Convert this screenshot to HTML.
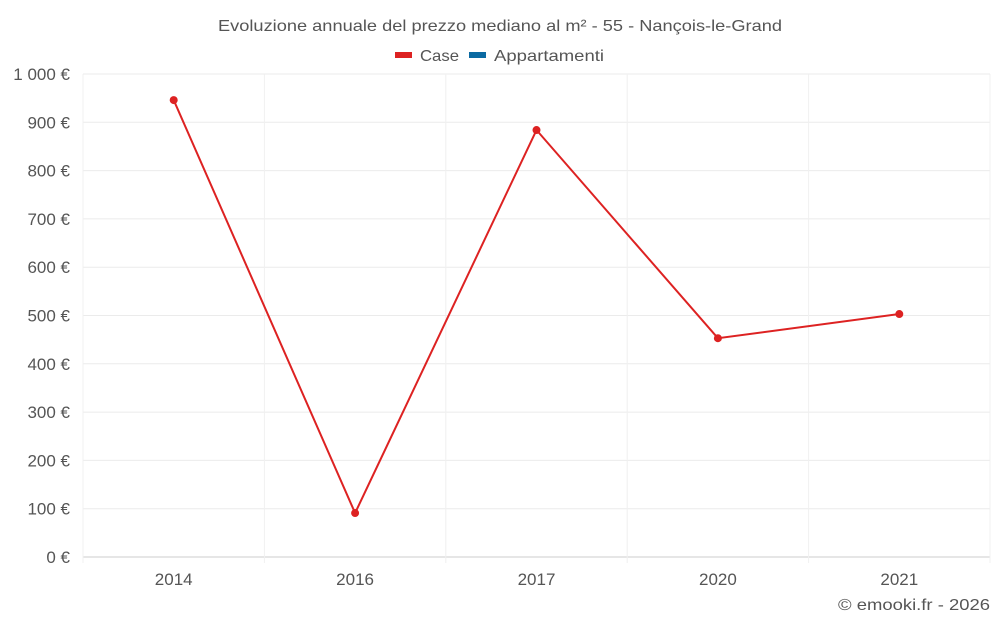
<!DOCTYPE html>
<html><head><meta charset="utf-8"><style>
body{margin:0;background:#fff;font-family:"Liberation Sans",sans-serif;}
svg text{font-family:"Liberation Sans",sans-serif;}
</style></head><body>
<svg id="chart" width="1000" height="625">
<text x="218" y="31" textLength="564" lengthAdjust="spacingAndGlyphs" font-size="16" fill="#555">Evoluzione annuale del prezzo mediano al m² - 55 - Nançois-le-Grand</text>
<g>
<g><rect x="395" y="52" width="17" height="6" fill="#dd2222"/><text x="420" y="61" textLength="39" lengthAdjust="spacingAndGlyphs" font-size="16" fill="#555">Case</text></g>
<g><rect x="469" y="52" width="17" height="6" fill="#0b6aa2"/><text x="494" y="61" textLength="110" lengthAdjust="spacingAndGlyphs" font-size="16" fill="#555">Appartamenti</text></g>
</g>
<g id="grid"></g><g id="axes"></g><g id="series"></g>
<text x="838" y="610" textLength="152" lengthAdjust="spacingAndGlyphs" font-size="16" fill="#555">© emooki.fr - 2026</text>
</svg>
<script>
const categories=["2014","2016","2017","2020","2021"];
const caseValues=[946,91,884,453,503];
const yTicks=[0,100,200,300,400,500,600,700,800,900,1000];
const yTickLabels=["0 €","100 €","200 €","300 €","400 €","500 €","600 €","700 €","800 €","900 €","1 000 €"];
const NS="http://www.w3.org/2000/svg";
const L=83,R=990,T=74,B=557;
const bw=(R-L)/categories.length;
const xS=i=>L+bw*(i+0.5);
const yS=v=>B-(v/1000)*(B-T);
function mk(tag,a,p){const e=document.createElementNS(NS,tag);for(const k in a)e.setAttribute(k,a[k]);p.appendChild(e);return e;}
const g=document.getElementById('grid'),ax=document.getElementById('axes'),s=document.getElementById('series');
yTicks.forEach((v,i)=>{
 const l=mk('line',{x1:L,x2:R,y1:yS(v),y2:yS(v),stroke:v===0?'#ccc':'#ebebeb'},g);
 
 
 const t=mk('text',{x:70,y:yS(v)+6,'text-anchor':'end','font-size':17,fill:'#555'},ax);
 t.textContent=yTickLabels[i];
 
 
});
for(let i=0;i<=categories.length;i++){
 const x=L+bw*i;
 const l=mk('line',{x1:x,x2:x,y1:T,y2:B+6,stroke:'#f0f0f0'},g);
 
 
}
categories.forEach((c,i)=>{
 const t=mk('text',{x:xS(i),y:585,'text-anchor':'middle','font-size':17,fill:'#555'},ax);
 t.textContent=c;
 
 
});
const pl=mk('polyline',{points:caseValues.map((v,i)=>xS(i)+','+yS(v)).join(' '),fill:'none',stroke:'#dd2222','stroke-width':2},s);


caseValues.forEach((v,i)=>{
 const c=mk('circle',{cx:xS(i),cy:yS(v),r:4,fill:'#dd2222'},s);
 
 
});
</script>
</body></html>
